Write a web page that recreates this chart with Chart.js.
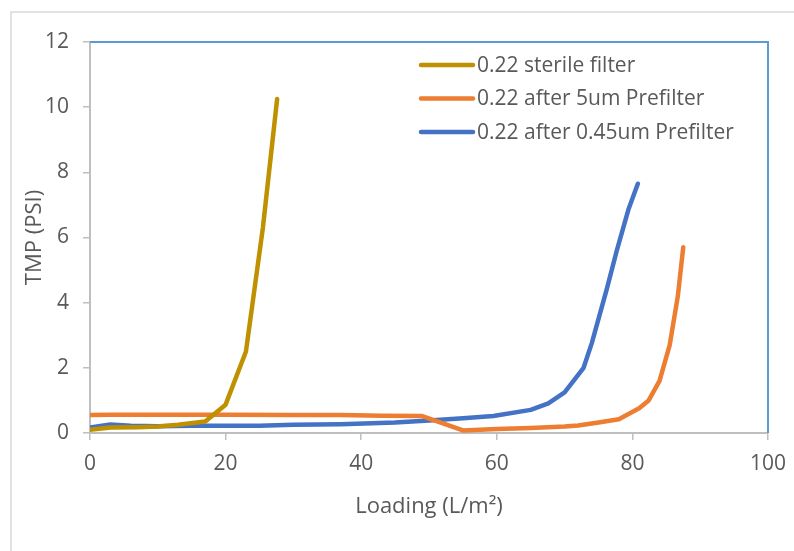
<!DOCTYPE html>
<html>
<head>
<meta charset="utf-8">
<script src="https://cdn.jsdelivr.net/npm/chart.js@4"></script>
<style>
  body { margin: 0; background: #fff; }
  #wrap { position: relative; width: 794px; height: 551px; }
</style>
</head>
<body>
<div id="wrap"><canvas id="chart" width="794" height="551"></canvas></div>
<script>
// data
var seriesNames = ['0.22 sterile filter', '0.22 after 5um Prefilter', '0.22 after 0.45um Prefilter'];
var seriesColors = ['#bf9000', '#ed7d31', '#4472c4'];

var sterileX = [0, 3, 7, 10, 13, 17, 20, 23, 25.5, 27.6];
var sterileY = [0.1, 0.17, 0.18, 0.2, 0.25, 0.35, 0.87, 2.5, 6.3, 10.25];

var pre5X = [0, 3, 10, 20, 30, 37, 43, 49, 55, 60, 65, 70, 72, 75, 78, 81, 82.4, 84, 85.5, 86.7, 87.5];
var pre5Y = [0.55, 0.56, 0.56, 0.56, 0.55, 0.55, 0.53, 0.52, 0.08, 0.12, 0.15, 0.2, 0.23, 0.32, 0.42, 0.76, 1.0, 1.6, 2.7, 4.2, 5.7];

var pre045X = [0, 3, 6, 10, 15, 20, 25, 30, 37, 45, 50, 55, 59.5, 65, 67.6, 70, 72.8, 74, 76.2, 77.7, 79.4, 80.8];
var pre045Y = [0.17, 0.26, 0.22, 0.21, 0.22, 0.22, 0.22, 0.25, 0.27, 0.32, 0.38, 0.45, 0.52, 0.71, 0.91, 1.25, 2.0, 2.75, 4.4, 5.6, 6.85, 7.65];

var xTicks = [0, 20, 40, 60, 80, 100];
var yTicks = [0, 2, 4, 6, 8, 10, 12];

function pts(xs, ys) {
    return xs.map(function(x, i) { return {x: x, y: ys[i]}; });
}

var txt = '#595959';
var fnt = '"Open Sans", sans-serif';

/* outer frame, blue top/right border, legend inside plot */
var decor = {
    id: 'decor',
    beforeDraw: function(chart) {
        var c = chart.ctx;
        c.save();
        c.strokeStyle = '#d9d9d9';
        c.lineWidth = 1.5;
        c.strokeRect(11, 12, 900, 900);
        c.restore();
    },
    afterDraw: function(chart) {
        var c = chart.ctx, a = chart.chartArea;
        c.save();
        c.strokeStyle = '#5b9bd5';
        c.lineWidth = 2;
        c.beginPath();
        c.moveTo(a.left, a.top);
        c.lineTo(a.right, a.top);
        c.lineTo(a.right, a.bottom);
        c.stroke();

        // legend
        c.font = '21px ' + fnt;
        c.textBaseline = 'middle';
        chart.data.datasets.forEach(function(ds, i) {
            var y = 65 + i * 33.5;
            c.strokeStyle = ds.borderColor;
            c.lineWidth = 4.5;
            c.lineCap = 'round';
            c.beginPath();
            c.moveTo(421, y);
            c.lineTo(473, y);
            c.stroke();
            c.fillStyle = txt;
            c.fillText(ds.label, 477, y + 1);
        });
        c.restore();
    }
};

var ctx = document.getElementById('chart').getContext('2d');
var datasets = [pts(sterileX, sterileY), pts(pre5X, pre5Y), pts(pre045X, pre045Y)].map(function(d, i) {
    return {
        label: seriesNames[i],
        data: d,
        borderColor: seriesColors[i],
        backgroundColor: seriesColors[i],
        borderWidth: 4.5,
        pointRadius: 0,
        tension: 0,
        borderJoinStyle: 'round',
        borderCapStyle: 'round',
        fill: false
    };
});

var chart = new Chart(ctx, {
    type: 'line',
    data: { datasets: datasets },
    options: {
        responsive: false,
        animation: false,
        layout: { padding: { left: 20, top: 42, right: 26, bottom: 27 } },
        plugins: { legend: { display: false }, tooltip: { enabled: false } },
        scales: {
            x: {
                type: 'linear',
                min: 0, max: 100,
                afterFit: function(s) { s.height = 91; s.paddingRight = 0; s.paddingLeft = 0; },
                afterBuildTicks: function(s) { s.ticks = xTicks.map(function(v) { return {value: v}; }); },
                grid: { drawOnChartArea: false, tickLength: 7, color: '#bfbfbf', lineWidth: 1.5 },
                border: { color: '#bfbfbf', width: 2 },
                ticks: { color: txt, font: { family: fnt, size: 21 }, padding: 11, maxRotation: 0 },
                title: { display: true, text: 'Loading (L/m²)', color: txt, font: { family: fnt, size: 22 }, padding: { top: 0, bottom: 4 } }
            },
            y: {
                min: 0, max: 12,
                afterFit: function(s) { s.width = 70; s.paddingTop = 0; s.paddingBottom = 0; },
                afterBuildTicks: function(s) { s.ticks = yTicks.map(function(v) { return {value: v}; }); },
                grid: { drawOnChartArea: false, tickLength: 7, color: '#bfbfbf', lineWidth: 1.5 },
                border: { color: '#bfbfbf', width: 2 },
                ticks: { color: txt, font: { family: fnt, size: 21 }, padding: 14 },
                title: { display: true, text: 'TMP (PSI)', color: txt, font: { family: fnt, size: 22 }, padding: { top: 2, bottom: 0 } }
            }
        }
    },
    plugins: [decor]
});
</script>
</body>
</html>
